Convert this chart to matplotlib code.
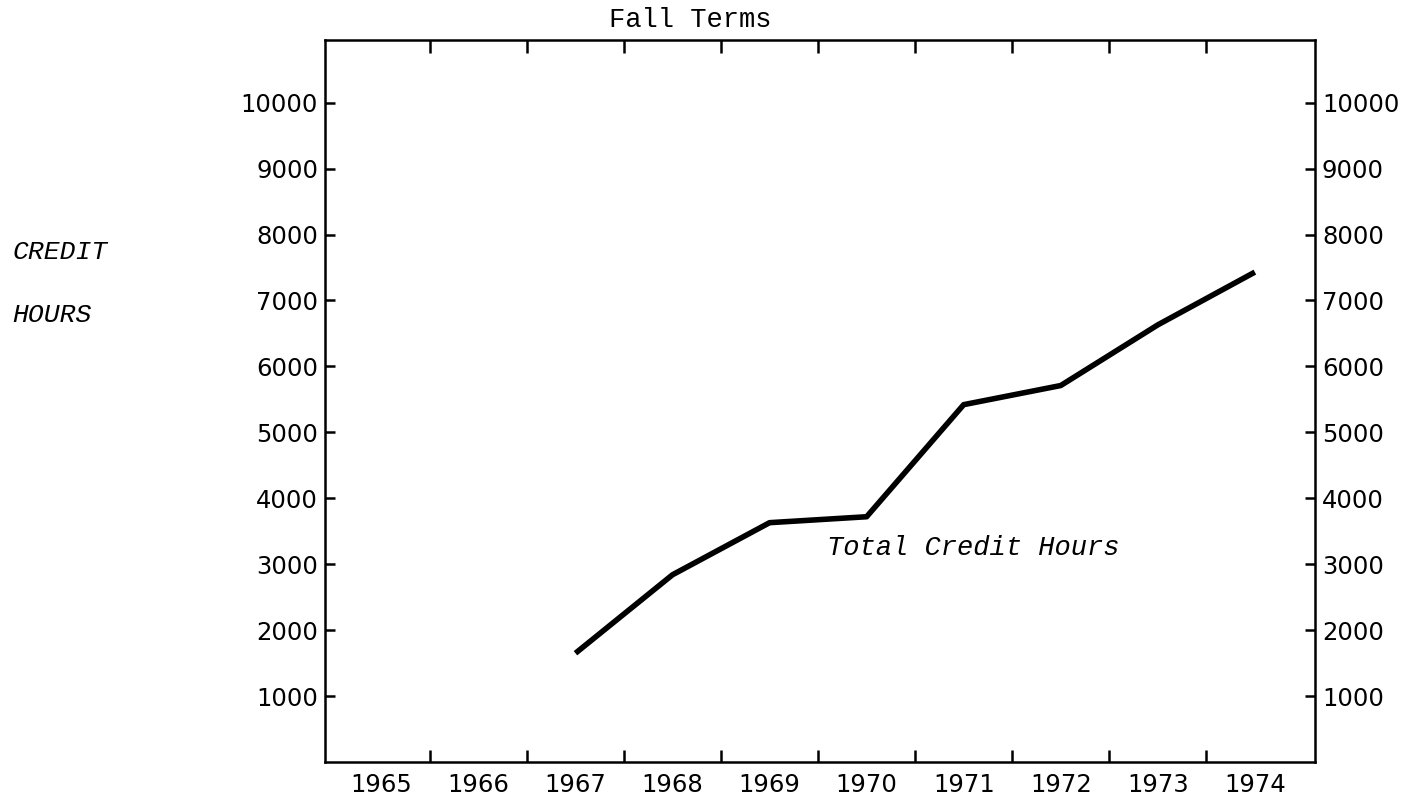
import numpy as np
import matplotlib
matplotlib.use("Agg")
from matplotlib import pyplot as plt
from matplotlib.ticker import FixedLocator

# Fall term credit hours
years = [1967, 1968, 1969, 1970, 1971, 1972, 1973, 1974]
credit_hours = [1650, 2840, 3630, 3720, 5420, 5710, 6630, 7430]

year_labels = [1965, 1966, 1967, 1968, 1969, 1970, 1971, 1972, 1973, 1974]
hour_ticks = [1000, 2000, 3000, 4000, 5000, 6000, 7000, 8000, 9000, 10000]

mono = "Liberation Mono"
tick_font = "DejaVu Sans"


def main():
    fig = plt.figure(figsize=(14.06, 7.96), dpi=100)
    ax = fig.add_axes([0.2312, 0.0427, 0.7041, 0.907])

    ax.plot(years, credit_hours, color="black", linewidth=4,
            solid_capstyle="butt", solid_joinstyle="round")

    ax.set_xlim(1964.42, 1974.62)
    ax.set_ylim(0, 10950)

    # year labels sit between the tick marks
    ax.xaxis.set_major_locator(FixedLocator(year_labels))
    ax.set_xticklabels([str(y) for y in year_labels])
    ax.xaxis.set_minor_locator(FixedLocator([y + 0.5 for y in year_labels[:-1]]))
    ax.tick_params(axis="x", which="major", length=0, pad=8, labelsize=17.5)
    ax.tick_params(axis="x", which="minor", direction="in", length=9, width=1.8,
                   top=True, bottom=True)

    ax.set_yticks(hour_ticks)
    ax.set_yticklabels([str(h) for h in hour_ticks])
    ax.tick_params(axis="y", which="major", direction="in", length=7.5, width=1.8,
                   left=True, right=True, labelleft=True, labelright=True,
                   pad=5, labelsize=17.5)

    for lab in ax.get_xticklabels() + ax.get_yticklabels():
        lab.set_fontfamily(tick_font)

    for sp in ax.spines.values():
        sp.set_linewidth(1.8)
        sp.set_color("black")

    fig.text(690 / 1406, 1 - 20 / 796, "Fall Terms", family=mono, fontsize=19.5,
             ha="center", va="center")
    ax.text(1969.59, 3250, "Total Credit Hours", family=mono, style="italic",
            fontsize=19.5, ha="left", va="center")
    fig.text(12 / 1406, 1 - 252 / 796, "CREDIT", family=mono, style="italic",
             fontsize=19, ha="left", va="center")
    fig.text(12 / 1406, 1 - 315 / 796, "HOURS", family=mono, style="italic",
             fontsize=19, ha="left", va="center")

    fig.savefig("out.png", dpi=100)


if __name__ == "__main__":
    main()
